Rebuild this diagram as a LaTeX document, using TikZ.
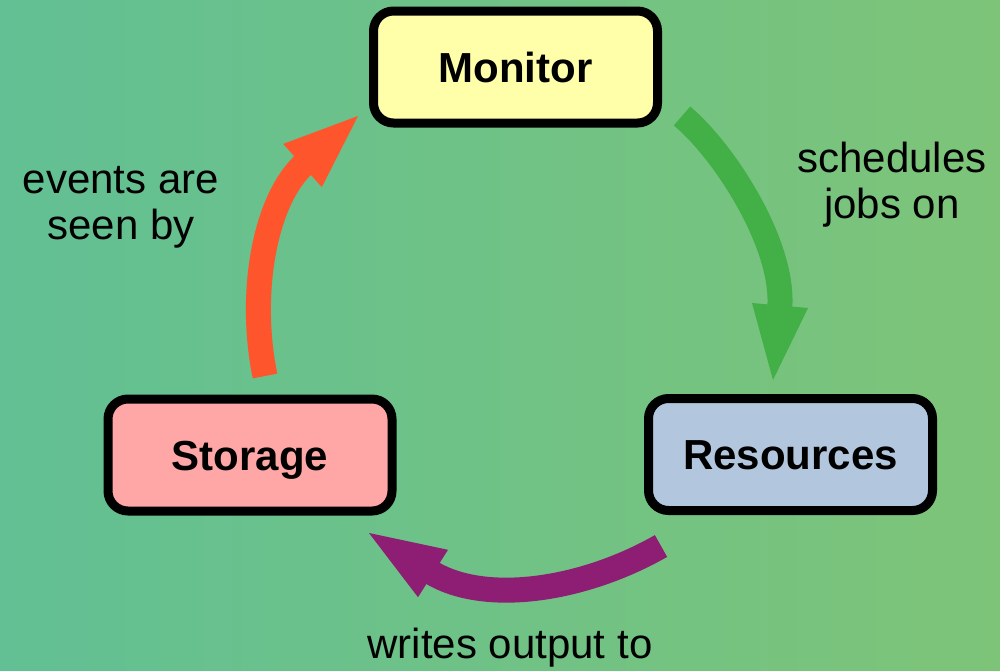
\documentclass[tikz,border=0pt]{standalone}
\usepackage{fontspec}
\setmainfont{Liberation Sans}
\definecolor{bgL}{RGB}{98,192,148}
\definecolor{bgR}{RGB}{125,196,120}
\definecolor{monfill}{RGB}{255,255,170}
\definecolor{stofill}{RGB}{255,166,166}
\definecolor{resfill}{RGB}{178,198,222}
\definecolor{redarr}{RGB}{255,85,45}
\definecolor{grnarr}{RGB}{66,175,71}
\definecolor{purarr}{RGB}{142,30,115}
\tikzset{
  box/.style={draw=black, line width=9pt, rounded corners=20pt, minimum width=284pt,
    minimum height=112pt, inner sep=0pt, text height=30pt, text depth=0pt,
    font=\fontsize{42pt}{48pt}\selectfont\bfseries},
  lbl/.style={font=\fontsize{42pt}{46pt}\selectfont, align=center, inner sep=0pt, anchor=base},
  shaft/.style={line width=25pt},
}
\begin{document}
\begin{tikzpicture}[x=1pt,y=-1pt]
\shade[left color=bgL, right color=bgR] (0,0) rectangle (1000,670);
\useasboundingbox (0,0) rectangle (1000,670);

\node[box, fill=monfill] (mon) at (515.5,67) {Monitor};
\node[box, fill=stofill] (sto) at (250,455) {Storage};
\node[box, fill=resfill] (res) at (790.5,454.5) {Resources};

% green arrow: Monitor -> Resources
\coordinate (gT) at (682,116);
\coordinate (gB) at (779.6,309.5);
\coordinate (gTip) at (773,380);
\coordinate (gL) at (752,303);
\coordinate (gR) at (808,308);
\draw[shaft, grnarr] (gT) .. controls (724,151) and (785.7,245.8) .. (gB);
\fill[grnarr] (gL) -- (gTip) -- (gR) -- cycle;

% purple arrow: Resources -> Storage
\coordinate (pT) at (661,546);
\coordinate (pB) at (429.6,571.4);
\coordinate (pTip) at (369,533);
\coordinate (pL) at (448,549.8);
\coordinate (pR) at (418,597.2);
\draw[shaft, purarr] (pT) .. controls (582.9,590.6) and (483.7,605.6) .. (pB);
\fill[purarr] (pL) -- (pTip) -- (pR) -- cycle;

% red arrow: Storage -> Monitor
\coordinate (rT) at (265,376);
\coordinate (rB) at (305.5,162.8);
\coordinate (rTip) at (358,116);
\coordinate (rL) at (283.2,143.9);
\coordinate (rR) at (321.8,187.1);
\draw[shaft, redarr] (rT) .. controls (248,293) and (264.6,199) .. (rB);
\fill[redarr] (rL) -- (rTip) -- (rR) -- cycle;

\node[lbl] (lev) at (121,239) {events are\\seen by};
\node[lbl] (lsc) at (892,218) {schedules\\jobs on};
\node[lbl] (lwr) at (510,658) {writes output to};
\end{tikzpicture}
\end{document}
